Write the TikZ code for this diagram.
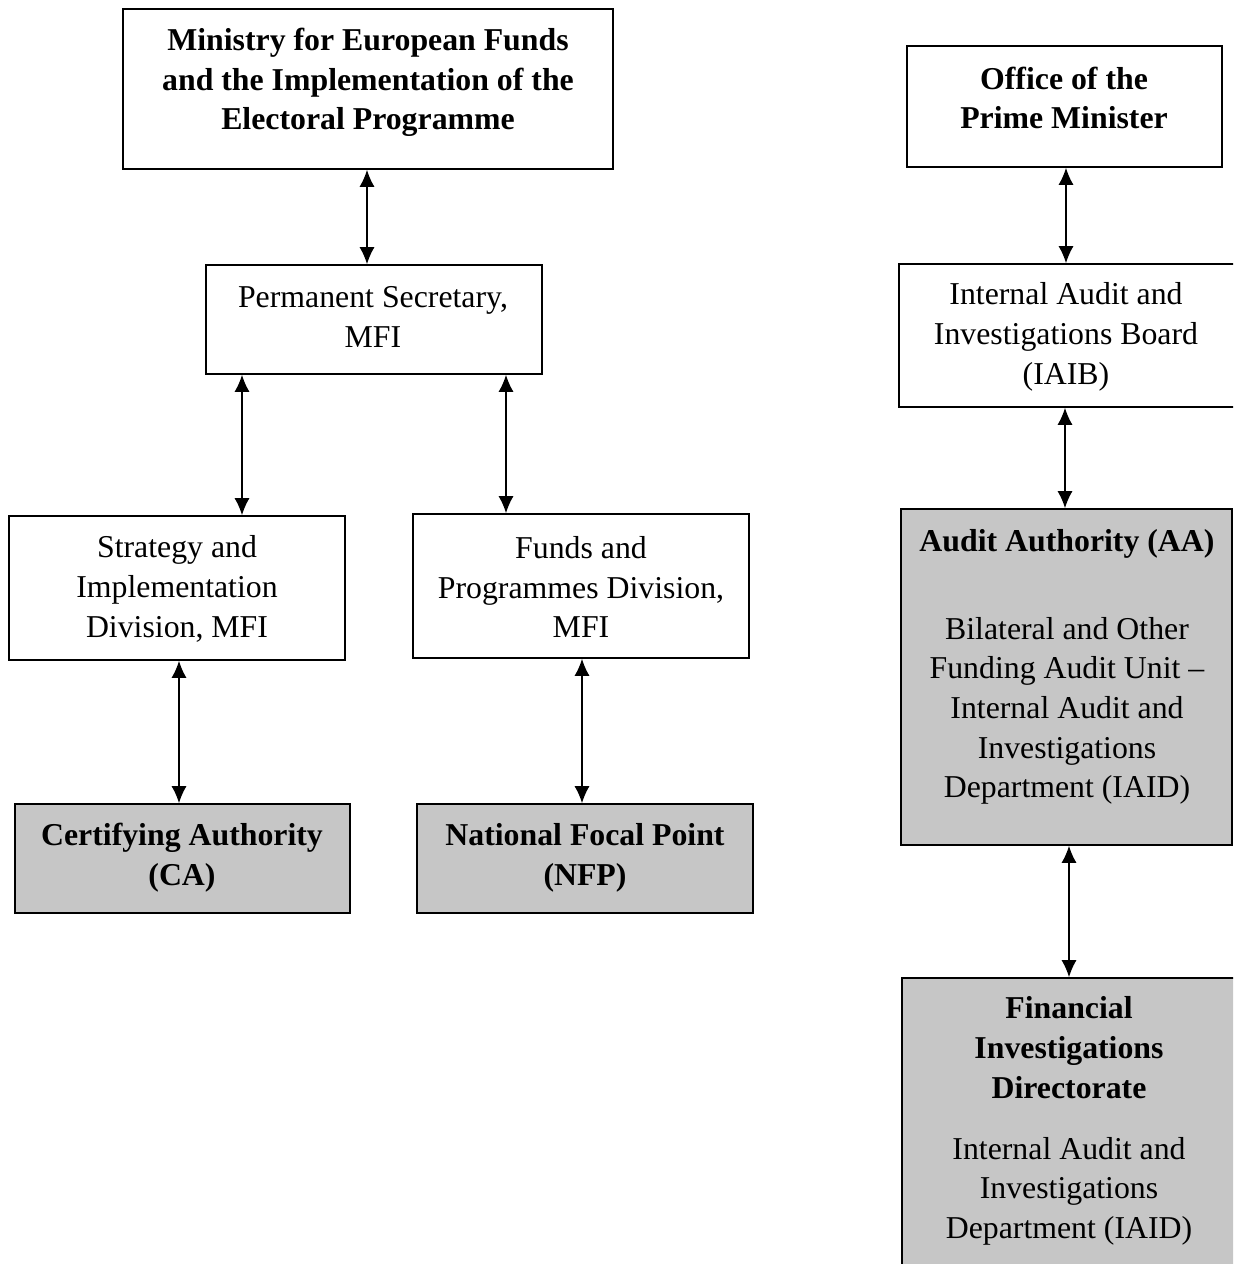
\documentclass[tikz,border=0pt]{standalone}
\usepackage{fontspec}
\setmainfont{Liberation Serif}
\usetikzlibrary{arrows.meta}
\begin{document}
\begin{tikzpicture}[x=0.5pt,y=-0.5pt,
  box/.style={draw,line width=0.8pt,inner sep=0pt},
  shaded/.style={box,fill=gray!45},
  txt/.style={align=center,inner sep=0pt,font=\fontsize{15.9}{19.85}\selectfont},
  btxt/.style={txt,font=\fontsize{15.9}{19.85}\selectfont\bfseries},
  arr/.style={{Latex[length=8.5pt,width=7.5pt]}-{Latex[length=8.5pt,width=7.5pt]},line width=0.7pt}]
\clip (0,0) rectangle (1233,1264);
% boxes
\node[box,minimum width=245pt,minimum height=80pt] (min) at (368,89) {};
\node[box,minimum width=168pt,minimum height=54.5pt] (ps) at (374,319.5) {};
\node[box,minimum width=168pt,minimum height=72pt] (sid) at (177,588) {};
\node[box,minimum width=168pt,minimum height=72pt] (fpd) at (581,586) {};
\node[shaded,minimum width=167.5pt,minimum height=54.5pt] (ca) at (182.5,858.5) {};
\node[shaded,minimum width=168pt,minimum height=54.5pt] (nfp) at (585,858.5) {};
\node[box,minimum width=157.5pt,minimum height=60.5pt] (opm) at (1064.5,106.5) {};
\node[box,minimum width=168.5pt,minimum height=71.5pt] (iaib) at (1067.5,335.5) {};
\node[shaded,minimum width=165.5pt,minimum height=168pt] (aa) at (1066.5,677) {};
\node[shaded,minimum width=167pt,minimum height=148.5pt] (fid) at (1069,1126.5) {};
% texts
\node[btxt] (mint) at (368,82.5) {Ministry for European Funds\\and the Implementation of the\\Electoral Programme};
\node[txt] (pst) at (373,317) {Permanent Secretary,\\MFI};
\node[txt] (sidt) at (177,589) {Strategy and\\Implementation\\Division, MFI};
\node[txt] (fpdt) at (581,587) {Funds and\\Programmes Division,\\MFI};
\node[btxt] (cat) at (182,858) {Certifying Authority\\(CA)};
\node[btxt] (nfpt) at (585,858) {National Focal Point\\(NFP)};
\node[btxt] (opmt) at (1064,98) {Office of the\\Prime Minister};
\node[txt] (iaibt) at (1066,337) {Internal Audit and\\Investigations Board\\(IAIB)};
\node[txt] (aat) at (1067,667) {\textbf{Audit Authority (AA)}\\[24pt]Bilateral and Other\\Funding Audit Unit --\\Internal Audit and\\Investigations\\Department (IAID)};
\node[txt] (fidt) at (1069,1121) {\textbf{Financial}\\\textbf{Investigations}\\\textbf{Directorate}\\[10.5pt]Internal Audit and\\Investigations\\Department (IAID)};
% connectors
\draw[arr] (min.south -| 367,0) -- (ps.north -| 367,0);
\draw[arr] (ps.south -| 242,0) -- (sid.north -| 242,0);
\draw[arr] (ps.south -| 506,0) -- (fpd.north -| 506,0);
\draw[arr] (sid.south -| 179,0) -- (ca.north -| 179,0);
\draw[arr] (fpd.south -| 582,0) -- (nfp.north -| 582,0);
\draw[arr] (opm.south -| 1066,0) -- (iaib.north -| 1066,0);
\draw[arr] (iaib.south -| 1065,0) -- (aa.north -| 1065,0);
\draw[arr] (aa.south -| 1069,0) -- (fid.north -| 1069,0);
\end{tikzpicture}
\end{document}
